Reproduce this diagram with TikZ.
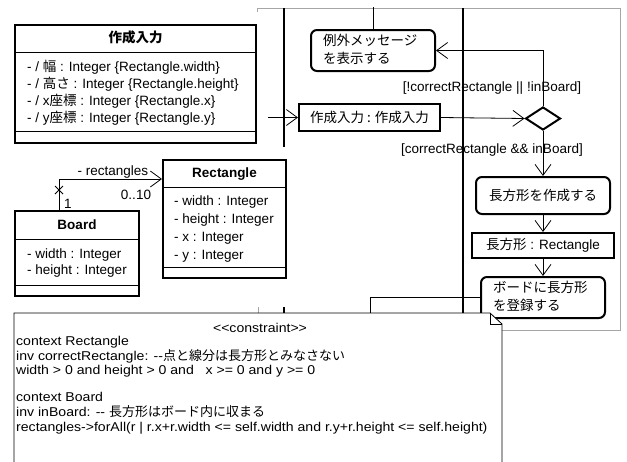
\documentclass[tikz,border=0pt]{standalone}
\usepackage{fontspec}
\setmainfont{Liberation Sans}
\newfontfamily\jp{Noto Sans CJK JP}
\newfontfamily\notefont[FakeStretch=1.1]{Liberation Sans}
\usetikzlibrary{arrows.meta,shapes.geometric}
\tikzset{
  cls/.style={draw, line width=2pt, inner sep=0, fill=white},
  sepline/.style={line width=1pt},
  txt/.style={inner sep=0, text height=9.5pt, text depth=3pt},
  conn/.style={line width=0.8pt, -{Straight Barb[length=11pt,width=16pt]}},
  plain/.style={line width=0.8pt},
  act/.style={draw, line width=2pt, rounded corners=6pt, inner sep=0, fill=white},
  objbox/.style={draw, line width=2pt, inner sep=0, fill=white},
  lane/.style={line width=2.4pt},
  frameline/.style={draw=black!35, line width=1pt},
  notetxt/.style={inner sep=0, text height=9pt, text depth=3pt, anchor=west, font=\fontsize{12.8}{14}\notefont},
}
\begin{document}
\begin{tikzpicture}[x=1pt,y=-1pt,font=\fontsize{13.5}{16}\selectfont]
\useasboundingbox (0,0) rectangle (627,461);

% activity frame (visible parts)
\draw[frameline] (257,12) -- (257,8) -- (620,8) -- (620,330) -- (502,330);
\draw[frameline] (258,307) -- (258,313);
% swimlane separators
\draw[lane] (284,8) -- (284,147);
\draw[lane] (284,307) -- (284,313);
\draw[lane] (463,8) -- (463,313);

% class: 作成入力
\node[cls, minimum width=241pt, minimum height=118pt] (inp) at (135.5,84) {};
\draw[sepline] (15,52) -- (256,52);
\draw[sepline] (15,131) -- (256,131);
\node[txt, font=\fontsize{13.5}{16}\jp\bfseries] (inpT) at (135.5,39) {作成入力};
\node[txt, anchor=west] (inpA1) at (27,68) {- / {\jp 幅} : Integer \{Rectangle.width\}};
\node[txt, anchor=west] (inpA2) at (27,85) {- / {\jp 高さ} : Integer \{Rectangle.height\}};
\node[txt, anchor=west] (inpA3) at (27,102) {- / x{\jp 座標} : Integer \{Rectangle.x\}};
\node[txt, anchor=west] (inpA4) at (27,119) {- / y{\jp 座標} : Integer \{Rectangle.y\}};

% class: Board
\node[cls, minimum width=124pt, minimum height=85pt] (board) at (77,253.5) {};
\draw[sepline] (15,239) -- (139,239);
\draw[sepline] (15,285) -- (139,285);
\node[txt, font=\fontsize{13.5}{16}\selectfont\bfseries] (boardT) at (77,226) {Board};
\node[txt, anchor=west] (boardA1) at (27,255) {- width : Integer};
\node[txt, anchor=west] (boardA2) at (27,271) {- height : Integer};

% class: Rectangle
\node[cls, minimum width=123pt, minimum height=118pt] (rect) at (224.5,219) {};
\draw[sepline] (163,187) -- (286,187);
\draw[sepline] (163,267) -- (286,267);
\node[txt, font=\fontsize{13.5}{16}\selectfont\bfseries] (rectT) at (224.5,174) {Rectangle};
\node[txt, anchor=west] (rectA1) at (174,202) {- width : Integer};
\node[txt, anchor=west] (rectA2) at (174,220) {- height : Integer};
\node[txt, anchor=west] (rectA3) at (174,238) {- x : Integer};
\node[txt, anchor=west] (rectA4) at (174,256) {- y : Integer};

% association Board -> Rectangle
\coordinate (bend) at (59,179);
\draw[conn] (board.north -| bend) -- (bend) -- (rect.west |- bend);
\draw[plain] (55,186) -- (63,194) (55,194) -- (63,186);
\node[txt] (assocL) at (113,172) {- rectangles};
\node[txt] (multR) at (136,196) {0..10};
\node[txt] (multB) at (68,205) {1};

% activity nodes
\node[act, minimum width=124pt, minimum height=41pt] (exc) at (373,50.5) {};
\node[txt, anchor=west] (excT1) at (323,42) {\jp 例外メッセージ};
\node[txt, anchor=west] (excT2) at (323,60) {\jp を表示する};
\draw[plain] (exc.north) -- ++(0,-22);

\node[objbox, minimum width=141pt, minimum height=27pt] (obj) at (369.5,117.5) {\jp 作成入力 : 作成入力};
\coordinate (in0) at (268,117.5);
\draw[conn] (in0) -- (obj.west);

\node[diamond, draw, line width=2pt, inner sep=0, minimum width=35pt, minimum height=23pt, fill=white] (dia) at (543,118.5) {};
\draw[conn] (obj.east) -- (dia.west);
\draw[conn] (dia.north) |- (exc.east);
\node[txt] (g1) at (492,88) {[!correctRectangle || !inBoard]};
\node[txt] (g2) at (492,150) {[correctRectangle \&\& inBoard]};

\node[act, minimum width=134pt, minimum height=37pt] (mk) at (543,195.5) {\jp 長方形を作成する};
\draw[conn] (dia.south) -- (mk.north);

\node[objbox, minimum width=142pt, minimum height=25pt] (obj2) at (543,245.5) {{\jp 長方形} : Rectangle};
\draw[conn] (mk.south) -- (obj2.north);

\node[act, minimum width=124pt, minimum height=41pt] (reg) at (543,297.5) {};
\node[txt, anchor=west] (regT1) at (493,289) {\jp ボードに長方形};
\node[txt, anchor=west] (regT2) at (493,307) {\jp を登録する};
\draw[conn] (obj2.south) -- (reg.north);
\coordinate (c1) at (370,313);
\draw[plain] (reg.west) -| (c1);

% constraint note
\draw[line width=0.8pt, fill=white] (14,313) -- (490,313) -- (502,324) -- (502,470) -- (14,470) -- cycle;
\draw[line width=0.6pt] (490,313) -- (490,324) -- (502,324);
\node[txt, font=\fontsize{12.8}{14}\notefont] (nst) at (260,329) {<<constraint>>};
\node[notetxt] (n1) at (16,342) {context Rectangle};
\node[notetxt] (n2) at (16,357) {inv correctRectangle: -{}-{\jp\fontsize{13}{14}\selectfont 点と線分は長方形とみなさない}};
\node[notetxt] (n3) at (16,371) {width > 0 and height > 0 and \ \ x >= 0 and y >= 0};
\node[notetxt] (n4) at (16,398) {context Board};
\node[notetxt] (n5) at (16,413) {inv inBoard: -{}- {\jp\fontsize{13}{14}\selectfont 長方形はボード内に収まる}};
\node[notetxt] (n6) at (16,428) {rectangles->forAll(r | r.x+r.width <= self.width and r.y+r.height <= self.height)};
\end{tikzpicture}
\end{document}
